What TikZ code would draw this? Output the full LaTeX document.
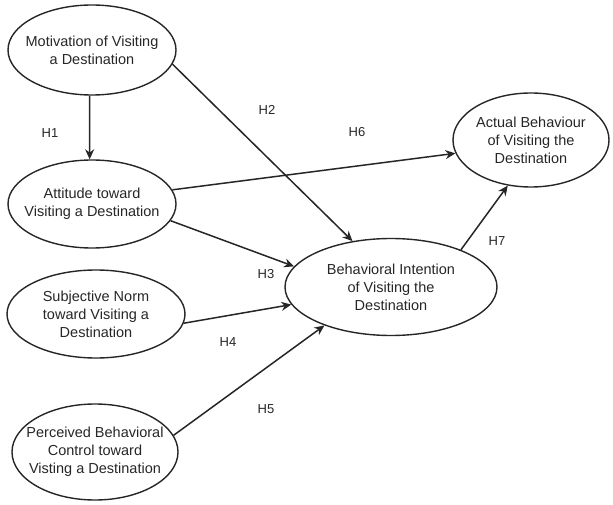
\documentclass[tikz,border=0pt]{standalone}
\usepackage{fontspec}
\setmainfont{Liberation Sans}
\usetikzlibrary{shapes.geometric,arrows.meta}
\begin{document}
\begin{tikzpicture}[x=1pt,y=-1pt,
  construct/.style={ellipse,draw=black!85,line width=1.4pt,inner sep=0pt},
  inner/.style={align=center,font=\fontsize{14.5}{18}\selectfont,text=black!85},
  path/.style={draw=black!85,line width=1.5pt,-{Stealth[length=10pt,width=9pt]}},
  hyp/.style={font=\fontsize{13}{14}\selectfont,text=black!85}]
\useasboundingbox (0,0) rectangle (613,505);
% constructs: fixed-size ellipses with their wording centred inside
\node[construct,minimum width=168pt,minimum height=90pt,
  label={[inner]center:Motivation of Visiting\\a Destination}] (mot) at (92,50) {};
\node[construct,minimum width=168pt,minimum height=88pt,
  label={[inner]center:Attitude toward\\Visiting a Destination}] (att) at (92,204) {};
\node[construct,minimum width=178pt,minimum height=88pt,
  label={[inner]center:Subjective Norm\\toward Visiting a\\Destination}] (sub) at (96,314) {};
\node[construct,minimum width=166pt,minimum height=96pt,
  label={[inner]center:Perceived Behavioral\\Control toward\\Visting a Destination}] (pbc) at (95,452) {};
\node[construct,minimum width=212pt,minimum height=97pt,
  label={[inner]center:Behavioral Intention\\of Visiting the\\Destination}] (bi) at (391,287) {};
\node[construct,minimum width=156pt,minimum height=94pt,
  label={[inner]center:Actual Behaviour\\of Visiting the\\Destination}] (act) at (531,140) {};
% hypothesised paths
\draw[path] (mot.-93) -- (att.93);
\draw[path] (mot.-10) -- (bi.130);
\draw[path] (att.10) -- (act.190);
\draw[path] (att.-12) -- (bi.168);
\draw[path] (sub.-6) -- (bi.190);
\draw[path] (pbc.12) -- (bi.210);
\draw[path] (bi.28) -- (act.243);
% path labels
\node[hyp] (h1) at (50,133) {H1};
\node[hyp] (h2) at (267,110) {H2};
\node[hyp] (h6) at (357,132) {H6};
\node[hyp] (h3) at (266,274) {H3};
\node[hyp] (h4) at (228,342) {H4};
\node[hyp] (h5) at (266,409) {H5};
\node[hyp] (h7) at (497,241) {H7};
\end{tikzpicture}
\end{document}
